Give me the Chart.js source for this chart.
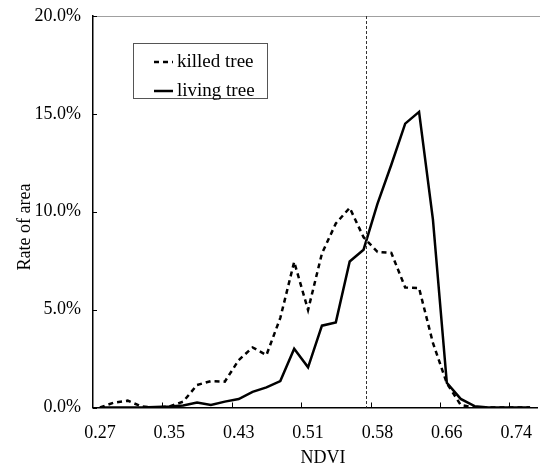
<!DOCTYPE html>
<html>
<head>
<meta charset="utf-8">
<script src="https://cdn.jsdelivr.net/npm/chart.js@4.4.0/dist/chart.umd.min.js"></script>
<style>
  html, body { margin: 0; padding: 0; background: #fff; }
  #wrap { width: 540px; height: 466px; }
</style>
</head>
<body>
<div id="wrap"><canvas id="chart" width="540" height="466"></canvas></div>
<script>
// NDVI bins, a label on every 5th bin
const tickLabels = ['0.27', '0.35', '0.43', '0.51', '0.58', '0.66', '0.74'];
const binsPerTick = 5;

// rate of area (%) for each NDVI bin
const killedTree = [0, 0.25, 0.35, 0.05, 0, 0.05, 0.3, 1.15, 1.35, 1.32, 2.42, 3.07, 2.68, 4.58, 7.44, 4.98,
    7.87, 9.4, 10.2, 8.7, 7.95, 7.9, 6.13, 6.1, 3.3, 1.24, 0.13, 0, 0, 0, 0, 0];
const livingTree = [0, 0, 0, 0, 0.02, 0.05, 0.1, 0.25, 0.13, 0.3, 0.43, 0.8, 1.03, 1.35, 3.0, 2.05,
    4.18, 4.35, 7.46, 8.06, 10.4, 12.4, 14.5, 15.1, 9.6, 1.26, 0.44, 0.07, 0, 0, 0, 0];

// y axis ticks (%)
const yTicks = [0, 5, 10, 15, 20];

// dotted threshold line, in bin units
const thresholdBin = 19.15;

const xTitle = 'NDVI';
const yTitle = 'Rate of area';

const serif = "'Liberation Serif', 'Times New Roman', serif";

const categories = killedTree.map((v, i) => i % binsPerTick === 0 ? tickLabels[i / binsPerTick] : '');

// frame line, inner tick marks and the threshold line
const frameMarks = {
    id: 'frameMarks',
    afterDatasetsDraw(chart) {
        const { ctx, chartArea: a, scales: { x, y } } = chart;
        ctx.save();
        ctx.lineWidth = 1;
        ctx.strokeStyle = '#a0a0a0';
        ctx.beginPath();
        ctx.moveTo(a.left, a.top + 0.5);
        ctx.lineTo(chart.width, a.top + 0.5);
        ctx.stroke();

        ctx.strokeStyle = '#000';
        ctx.beginPath();
        yTicks.forEach(v => {
            const py = Math.round(y.getPixelForValue(v)) + 0.5;
            ctx.moveTo(a.left, py);
            ctx.lineTo(a.left + 4, py);
        });
        for (let i = binsPerTick; i < categories.length; i += binsPerTick) {
            const px = Math.round(x.getPixelForValue(i - 0.5)) + 0.5;
            ctx.moveTo(px, a.bottom);
            ctx.lineTo(px, a.bottom - 5);
        }
        ctx.stroke();

        const tx = Math.round(x.getPixelForValue(thresholdBin)) + 0.5;
        ctx.setLineDash([3, 2]);
        ctx.strokeStyle = '#333';
        ctx.beginPath();
        ctx.moveTo(tx, a.top);
        ctx.lineTo(tx, a.bottom);
        ctx.stroke();
        ctx.restore();
    }
};

// boxed legend inside the plot and the axis titles
const boxLegend = {
    id: 'boxLegend',
    afterDraw(chart) {
        const { ctx, chartArea: a } = chart;
        const bx = a.left + 40, by = a.top + 27, bw = 134, bh = 55;
        ctx.save();
        ctx.fillStyle = '#fff';
        ctx.fillRect(bx, by, bw, bh);
        ctx.strokeStyle = '#555';
        ctx.lineWidth = 1;
        ctx.strokeRect(bx + 0.5, by + 0.5, bw, bh);

        ctx.font = '19px ' + serif;
        ctx.textBaseline = 'middle';
        ctx.fillStyle = '#000';
        chart.data.datasets.forEach((ds, i) => {
            const ly = by + 19 + i * 29;
            ctx.setLineDash(ds.borderDash || []);
            ctx.lineWidth = ds.borderWidth;
            ctx.strokeStyle = ds.borderColor;
            ctx.beginPath();
            ctx.moveTo(bx + 21, ly);
            ctx.lineTo(bx + 40, ly);
            ctx.stroke();
            ctx.fillText(ds.label, bx + 44, ly);
        });

        ctx.setLineDash([]);
        ctx.font = '18px ' + serif;
        ctx.textAlign = 'center';
        ctx.fillText(xTitle, a.left + 230, 458);
        ctx.translate(25, 227);
        ctx.rotate(-Math.PI / 2);
        ctx.fillText(yTitle, 0, 0);
        ctx.restore();
    }
};

new Chart(document.getElementById('chart'), {
    type: 'line',
    data: {
        labels: categories,
        datasets: [
            {
                label: 'killed tree',
                data: killedTree,
                borderColor: '#000',
                borderWidth: 2.5,
                borderDash: [5, 4],
                pointRadius: 0,
                fill: false,
                tension: 0
            },
            {
                label: 'living tree',
                data: livingTree,
                borderColor: '#000',
                borderWidth: 2.5,
                pointRadius: 0,
                fill: false,
                tension: 0
            }
        ]
    },
    options: {
        responsive: false,
        animation: false,
        layout: { padding: { top: 16, right: 3, left: 0, bottom: 0 } },
        plugins: {
            legend: { display: false },
            tooltip: { enabled: false }
        },
        scales: {
            x: {
                offset: true,
                grid: { display: false, drawTicks: false },
                border: { display: true, color: '#000', width: 1.5 },
                ticks: {
                    autoSkip: false,
                    maxRotation: 0,
                    padding: 15,
                    color: '#000',
                    font: { family: serif, size: 18 }
                },
                afterFit(scale) {
                    scale.height = 58.5;
                    scale.paddingLeft = 0;
                    scale.paddingRight = 0;
                }
            },
            y: {
                min: 0,
                max: 20,
                grid: { display: false, drawTicks: false },
                border: { display: true, color: '#000', width: 1.5 },
                ticks: {
                    stepSize: 5,
                    padding: 12,
                    color: '#000',
                    font: { family: serif, size: 18 },
                    callback: v => v.toFixed(1) + '%'
                },
                afterFit(scale) {
                    scale.width = 93;
                    scale.paddingTop = 0;
                    scale.paddingBottom = 0;
                }
            }
        }
    },
    plugins: [frameMarks, boxLegend]
});
</script>
</body>
</html>
